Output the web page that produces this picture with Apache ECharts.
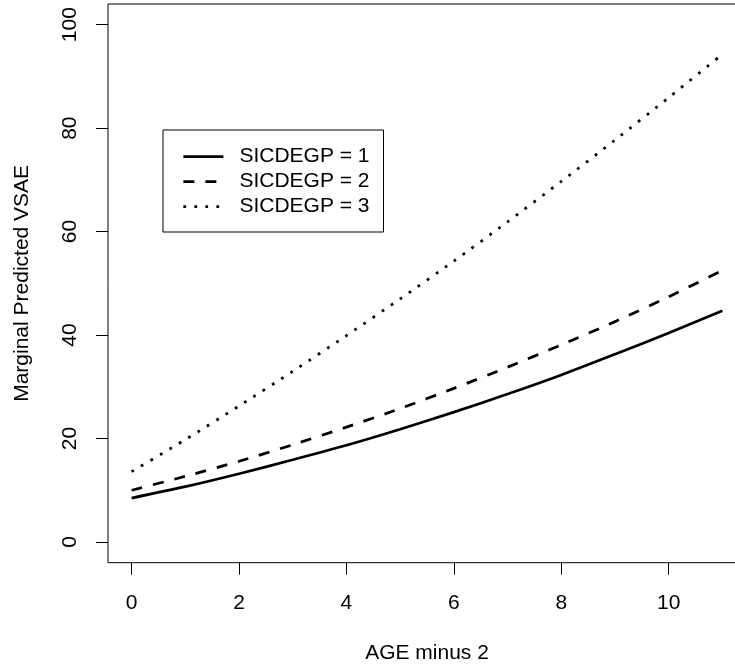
<!DOCTYPE html>
<html>
<head>
<meta charset="utf-8">
<script src="https://cdn.jsdelivr.net/npm/echarts@6/dist/echarts.min.js"></script>
<style>
html,body{margin:0;padding:0;background:#fff;}
#chart{width:735px;height:666px;}
</style>
</head>
<body>
<div id="chart"></div>
<script>
// Data
const ages = [0, 1, 2, 3, 4, 5, 6, 7, 8, 9, 10, 11];
const sicdegp1 = [8.5, 10.7, 13.2, 15.9, 18.7, 21.8, 25.1, 28.6, 32.3, 36.3, 40.4, 44.7];
const sicdegp2 = [10.0, 12.7, 15.6, 18.8, 22.2, 25.8, 29.7, 33.8, 38.1, 42.6, 47.4, 52.5];
const sicdegp3 = [13.6, 19.8, 26.3, 33.0, 39.9, 47.0, 54.3, 61.9, 69.7, 77.7, 85.9, 94.3];
const seriesNames = ['SICDEGP = 1', 'SICDEGP = 2', 'SICDEGP = 3'];
const xTicks = [0, 2, 4, 6, 8, 10];
const yTicks = [0, 20, 40, 60, 80, 100];
const xTitle = 'AGE minus 2';
const yTitle = 'Marginal Predicted VSAE';

const FONT = '"Liberation Sans", Arial, Helvetica, sans-serif';
const pairs = ys => ages.map((a, i) => [a, ys[i]]);
const styles = ['solid', [11, 11], [2.75, 8.25]];
const values = [sicdegp1, sicdegp2, sicdegp3];

const chart = echarts.init(document.getElementById('chart'));
chart.setOption({
  animation: false,
  backgroundColor: '#fff',
  textStyle: { fontFamily: FONT, color: '#000' },
  grid: {
    left: 108, top: 4, width: 638, height: 558.7,
    containLabel: false, outerBoundsMode: 'none',
    show: true, borderColor: '#000', borderWidth: 1, backgroundColor: 'transparent'
  },
  xAxis: {
    type: 'value', min: -0.44, max: 11.44,
    name: xTitle, nameLocation: 'middle', nameGap: 80,
    nameTextStyle: { fontSize: 21, fontFamily: FONT, color: '#000' },
    axisLine: { show: false, onZero: false },
    splitLine: { show: false },
    axisTick: { show: true, customValues: xTicks, length: 12, inside: false, lineStyle: { color: '#000', width: 1 } },
    axisLabel: { customValues: xTicks, fontSize: 21, fontFamily: FONT, color: '#000', margin: 30 }
  },
  yAxis: {
    type: 'value', min: -4, max: 104,
    name: yTitle, nameLocation: 'middle', nameGap: 75, nameRotate: 90,
    nameTextStyle: { fontSize: 21, fontFamily: FONT, color: '#000' },
    axisLine: { show: false, onZero: false },
    splitLine: { show: false },
    axisTick: { show: true, customValues: yTicks, length: 12, inside: false, lineStyle: { color: '#000', width: 1 } },
    axisLabel: { customValues: yTicks, fontSize: 21, fontFamily: FONT, color: '#000', margin: 27, rotate: 90 }
  },
  legend: {
    orient: 'vertical', left: 163, top: 130,
    padding: [14, 14, 13, 19],
    itemWidth: 40, itemHeight: 25, itemGap: 0,
    borderColor: '#000', borderWidth: 1, borderRadius: 0,
    selectedMode: false,
    data: seriesNames,
    itemStyle: { opacity: 0 },
    lineStyle: { width: 2.75 },
    textStyle: { fontSize: 21, lineHeight: 25, fontFamily: FONT, color: '#000', padding: [0, 0, 0, 11] }
  },
  series: seriesNames.map((n, i) => ({
    name: n, type: 'line', data: pairs(values[i]),
    symbol: 'none', smooth: 0.25,
    lineStyle: { color: '#000', width: 2.75, type: styles[i], cap: 'butt' },
    itemStyle: { color: '#000' }
  }))
});
</script>
</body>
</html>
